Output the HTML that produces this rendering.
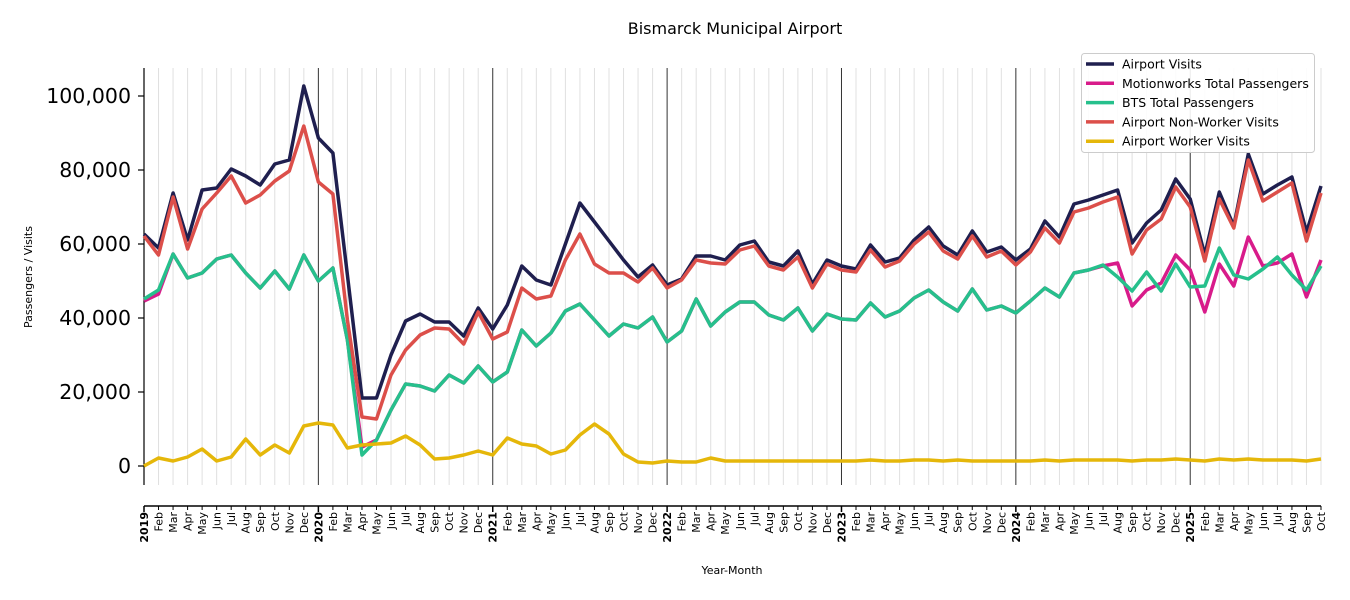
<!DOCTYPE html>
<html><head><meta charset="utf-8"><style>
body{margin:0;background:#fff;}
svg{display:block;font-family:"DejaVu Sans","Liberation Sans",sans-serif;}
</style></head><body>
<svg id="s" width="1350" height="600" xmlns="http://www.w3.org/2000/svg"></svg>
<script>
const s=document.getElementById('s');
let h='';
const X0=144,DX=(1321-144)/81;
const x=i=>X0+i*DX;
h+='<text x="735" y="34" font-size="16" text-anchor="middle" fill="#000">Bismarck Municipal Airport</text>';
for(let i=0;i<82;i++){
  const yr=i%12===0&&i>0;
  h+=`<line x1="${x(i)}" y1="68" x2="${x(i)}" y2="485" stroke="${yr?'#333':'#e0e0e0'}" stroke-width="1"/>`;
}
h+='<line x1="144" y1="68" x2="144" y2="485" stroke="#000" stroke-width="1.2"/>';
for(let v=0;v<=100000;v+=20000){
  const y=466-v*0.0037;
  h+=`<line x1="138" y1="${y}" x2="144" y2="${y}" stroke="#000" stroke-width="1.2"/>`;
  h+=`<text x="131" y="${y+7}" font-size="20.5" text-anchor="end">${v.toLocaleString('en-US')}</text>`;
}
h+='<text transform="translate(32,277) rotate(-90)" font-size="11" text-anchor="middle">Passengers / Visits</text>';
h+='<text x="732" y="574" font-size="11" text-anchor="middle">Year-Month</text>';
h+='<line x1="144" y1="506" x2="1321" y2="506" stroke="#000" stroke-width="1.5"/>';
const M=['Jan','Feb','Mar','Apr','May','Jun','Jul','Aug','Sep','Oct','Nov','Dec'];
for(let i=0;i<82;i++){
  const yr=i%12===0;
  h+=`<line x1="${x(i)}" y1="506" x2="${x(i)}" y2="${yr?512:510}" stroke="#000" stroke-width="${yr?1.5:1}"/>`;
  const lab=yr?(2019+i/12):M[i%12];
  h+=`<text transform="translate(${x(i)+4},512) rotate(-90)" font-size="11" text-anchor="end" ${yr?'font-weight="bold"':''}>${lab}</text>`;
}
const nav=[234,248,193,240,190,188,169,176,185,164,160,86, 138,153,275,398,398,355,321,314,322,322,336,308, 329,305,266,280,285,244,203,222,241,260,277,265, 285,279,256,256,260,245,241,262,266,251,284,260, 266,269,245,262,258,240,227,246,255,231,252,247, 260,249,221,237,204,200,195,190,243,223,210,179, 199,255,192,226,154,194,185,177,232,186];
const red=[236,255,197,249,209,193,176,203,195,181,171,126, 182,194,320,417,419,375,350,335,328,329,344,312, 339,332,288,299,296,260,234,264,273,273,282,268, 288,280,260,263,264,250,246,266,270,257,288,264, 270,272,250,267,261,244,232,251,259,236,257,251, 265,252,228,243,212,208,202,197,254,230,219,187, 207,261,199,228,160,201,192,183,241,193];
const grn=[299,290,254,278,273,259,255,273,288,271,289,255, 281,268,340,455,440,410,384,386,391,375,383,366, 382,372,330,346,333,311,304,320,336,324,328,317, 342,331,299,326,312,302,302,315,320,308,331,314, 319,320,303,317,311,298,290,302,311,289,310,306, 313,301,288,297,273,270,265,277,291,272,291,264, 287,286,248,275,279,269,257,275,290,266];
const mag=grn.slice();
mag[0]=301;mag[1]=294;mag[15]=447;
[266,263,306,290,283,255].forEach((v,k)=>mag[66+k]=v);
[270,312,264,286,237,266,263,254,297,260].forEach((v,k)=>mag[72+k]=v);
const yel=[466,458,461,457,449,461,457,439,455,445,453,426, 423,425,448,445,444,443,436,445,459,458,455,451, 455,438,444,446,454,450,435,424,434,454,462,463, 461,462,462,458,461,461,461,461,461,461,461,461, 461,461,460,461,461,460,460,461,460,461,461,461, 461,461,460,461,460,460,460,460,461,460,460,459, 460,461,459,460,459,460,460,460,461,459];
const line=(d,c)=>`<polyline fill="none" stroke="${c}" stroke-width="3.5" stroke-linejoin="round" points="${d.map((y,i)=>x(i).toFixed(1)+','+y).join(' ')}"/>`;
h+=line(nav,'#1f1f4f');
h+=line(mag,'#d81b8a');
h+=line(grn,'#26c08c');
h+=line(red,'#dc4f4a');
h+=line(yel,'#e5b70a');
h+='<rect x="1081.5" y="53.5" width="233" height="99" rx="3" fill="#fff" fill-opacity="0.9" stroke="#ccc"/>';
const L=[['Airport Visits','#1f1f4f'],['Motionworks Total Passengers','#d81b8a'],['BTS Total Passengers','#26c08c'],['Airport Non-Worker Visits','#dc4f4a'],['Airport Worker Visits','#e5b70a']];
L.forEach((l,k)=>{const y=64+k*19.3;
h+=`<line x1="1086" y1="${y}" x2="1114" y2="${y}" stroke="${l[1]}" stroke-width="3.5"/>`;
h+=`<text x="1122" y="${y+4.5}" font-size="12.5">${l[0]}</text>`;});
s.innerHTML=h;
</script>
</body></html>
